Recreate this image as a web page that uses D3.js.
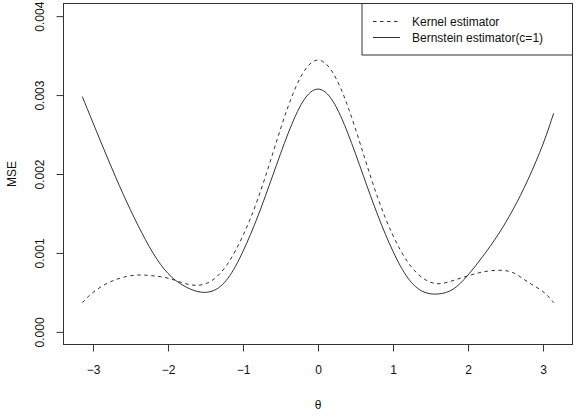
<!DOCTYPE html>
<html>
<head>
<meta charset="utf-8">
<script src="https://cdn.jsdelivr.net/npm/d3@7"></script>
<style>
  html, body { margin: 0; padding: 0; background: #fff; }
  svg { display: block; font-family: "Liberation Sans", Arial, sans-serif; }
</style>
</head>
<body>
<svg id="chart" width="580" height="419"></svg>
<script>
// ---- data ----
const theta = [-3.1416, -3.0, -2.8, -2.6, -2.4, -2.2, -2.0, -1.8, -1.6, -1.4, -1.2, -1.0, -0.8, -0.6, -0.4, -0.2, 0,
               0.2, 0.4, 0.6, 0.8, 1.0, 1.2, 1.4, 1.6, 1.8, 2.0, 2.2, 2.4, 2.6, 2.8, 3.0, 3.1416];
const kernelMSE = [0.00037, 0.00050, 0.00062, 0.00069, 0.00072, 0.00071, 0.00068, 0.00062, 0.00059, 0.00066, 0.00087, 0.00122, 0.00169, 0.00227, 0.00285, 0.00328, 0.003443,
                   0.00328, 0.00285, 0.00227, 0.00169, 0.00122, 0.00088, 0.00068, 0.00061, 0.00065, 0.00071, 0.00076, 0.00078, 0.00075, 0.00063, 0.00051, 0.00037];
const bernsteinMSE = [0.00298, 0.00265, 0.00219, 0.00175, 0.00135, 0.00100, 0.00074, 0.00059, 0.00051, 0.00052, 0.00068, 0.00102, 0.00147, 0.00199, 0.00251, 0.00292, 0.003076,
                      0.00292, 0.00251, 0.00199, 0.00147, 0.00102, 0.00068, 0.00051, 0.00048, 0.00054, 0.00072, 0.00096, 0.00123, 0.00155, 0.00193, 0.00238, 0.00277];
const xTicks = [-3, -2, -1, 0, 1, 2, 3];
const yTicks = [0, 0.001, 0.002, 0.003, 0.004];
const legendLabels = ["Kernel estimator", "Bernstein estimator(c=1)"];

// ---- layout ----
const svg = d3.select("#chart");
const L = 63.5, R = 572.5, T = 3.5, B = 344.5;
const xPad = (Math.PI * 2) * 0.04;
const x = d3.scaleLinear().domain([-Math.PI - xPad, Math.PI + xPad]).range([L, R]);
const y = d3.scaleLinear().domain([-0.00016, 0.00416]).range([B, T]);
const ink = "#333";

// axes
const xAxis = svg.append("g").attr("transform", `translate(0,${B})`)
  .call(d3.axisBottom(x).tickValues(xTicks).tickSize(7).tickPadding(14)
        .tickFormat(d => d < 0 ? "\u2212" + Math.abs(d) : String(d)));
xAxis.select(".domain").attr("d", `M${x(-3)},0H${x(3)}`);
const yAxis = svg.append("g").attr("transform", `translate(${L},0)`)
  .call(d3.axisLeft(y).tickValues(yTicks).tickSize(7).tickFormat(d3.format(".3f")));
yAxis.select(".domain").attr("d", `M0,${y(0)}V${y(0.004)}`);
yAxis.selectAll(".tick text")
  .attr("x", null).attr("dy", null)
  .attr("text-anchor", "middle")
  .attr("transform", "translate(-24,0) rotate(-90)")
  .attr("dy", "0.35em");
[xAxis, yAxis].forEach(g => {
  g.selectAll("path, line").attr("stroke", ink);
  g.selectAll("text").attr("fill", "#111").style("font-size", "12px").style("font-family", "Liberation Sans, Arial, sans-serif");
});

// box
svg.append("rect").attr("x", L).attr("y", T).attr("width", R - L).attr("height", B - T)
  .attr("fill", "none").attr("stroke", ink);

// axis titles
svg.append("text").attr("x", x(0)).attr("y", 409).attr("text-anchor", "middle")
  .style("font-size", "12px").attr("fill", "#111").text("\u03B8");
svg.append("text").attr("transform", `translate(16,${(T + B) / 2}) rotate(-90)`)
  .attr("text-anchor", "middle").style("font-size", "12px").attr("fill", "#111").text("MSE");

// lines
const line = vals => d3.line().x((d, i) => x(theta[i])).y(d => y(d)).curve(d3.curveNatural)(vals);
svg.append("path").attr("d", line(kernelMSE)).attr("fill", "none").attr("stroke", ink)
  .attr("stroke-width", 1).attr("stroke-dasharray", "3.5,3.5");
svg.append("path").attr("d", line(bernsteinMSE)).attr("fill", "none").attr("stroke", ink)
  .attr("stroke-width", 1);

// legend
const lgX = 362, lgY = T, lgW = R - 362, lgH = 51.5;
svg.append("rect").attr("x", lgX).attr("y", lgY).attr("width", lgW).attr("height", lgH)
  .attr("fill", "#fff").attr("stroke", ink);
const dashes = ["3.5,3.5", null];
legendLabels.forEach((lab, i) => {
  const ly = 21.5 + i * 16;
  svg.append("line").attr("x1", 373).attr("x2", 400).attr("y1", ly).attr("y2", ly)
    .attr("stroke", ink).attr("stroke-dasharray", dashes[i]);
  svg.append("text").attr("x", 412).attr("y", ly).attr("dy", "0.35em")
    .style("font-size", "12px").attr("fill", "#111").text(lab);
});
</script>
</body>
</html>
